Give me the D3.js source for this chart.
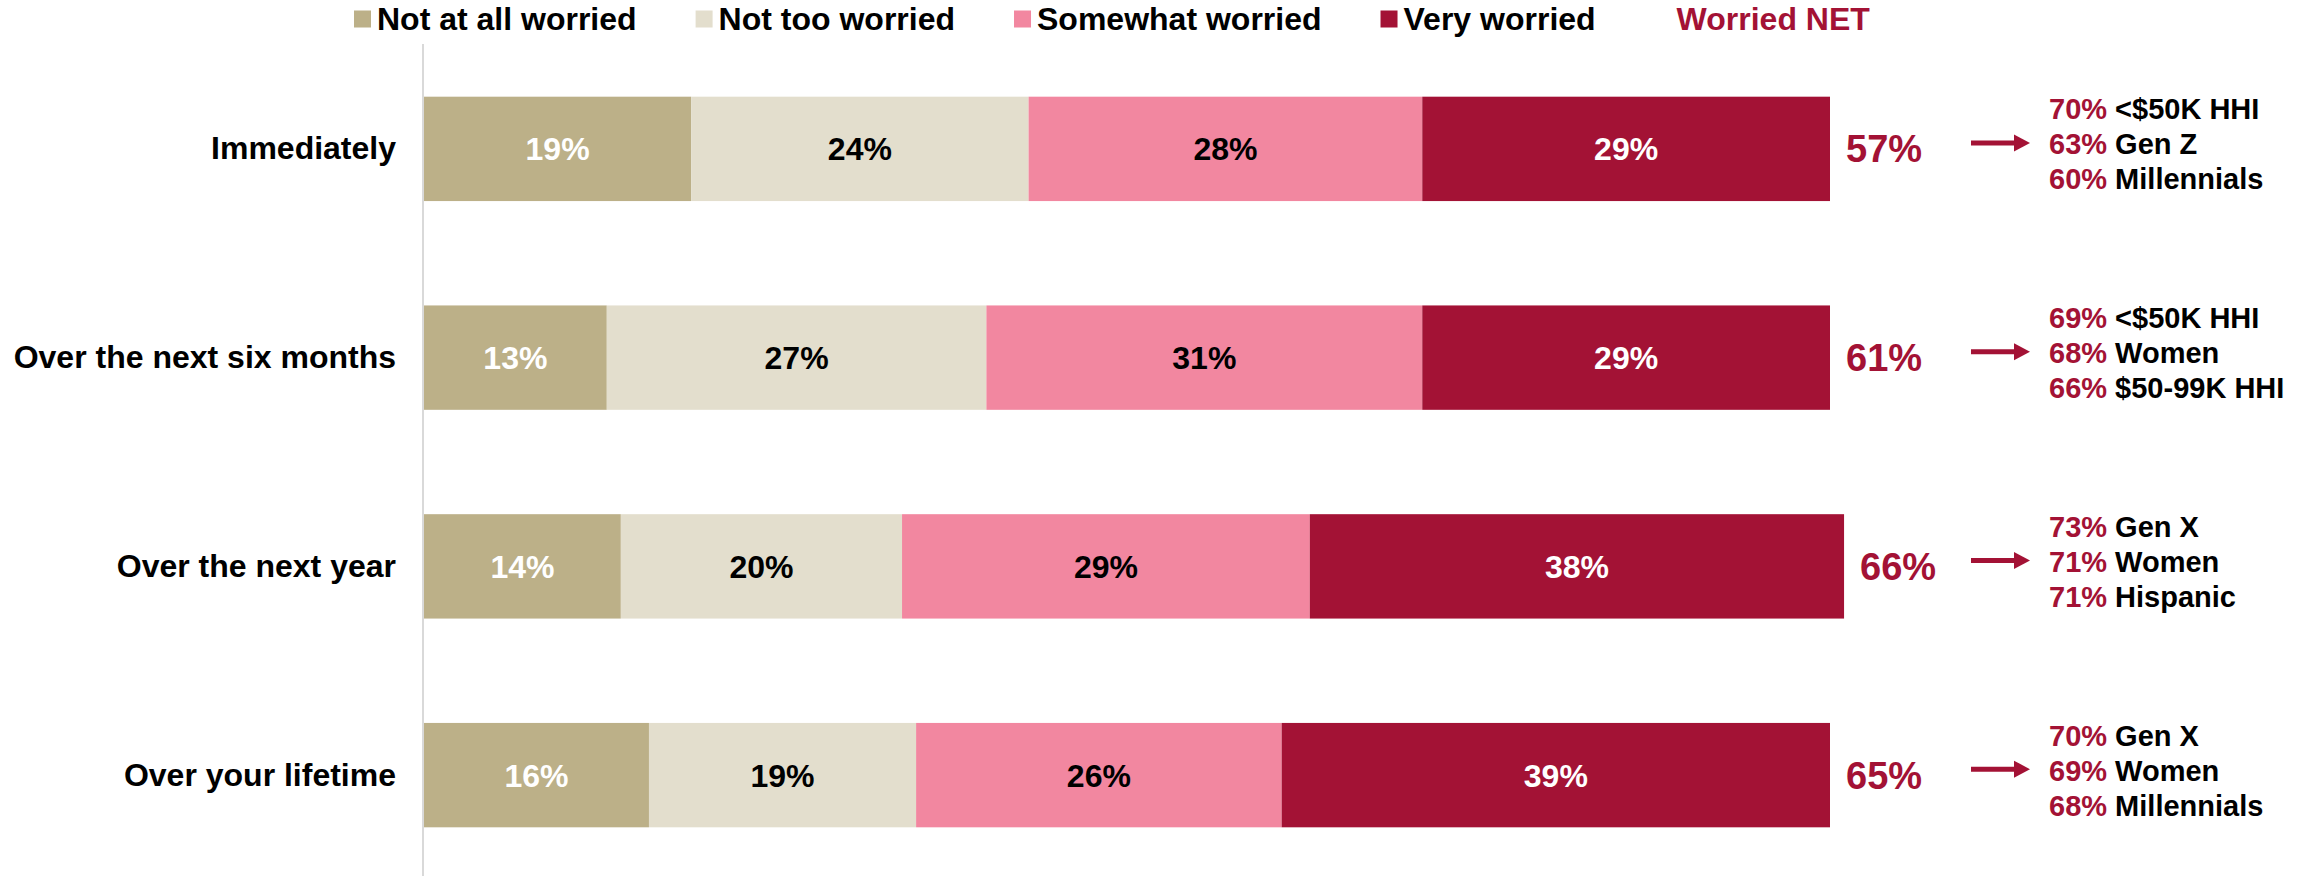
<!DOCTYPE html>
<html>
<head>
<meta charset="utf-8">
<script src="https://cdn.jsdelivr.net/npm/d3@7"></script>
<style>
  html, body { margin: 0; padding: 0; background: #fff; }
  svg { display: block; font-family: "Liberation Sans", Arial, sans-serif; font-weight: bold; }
</style>
</head>
<body>
<svg id="chart" width="2316" height="876"></svg>
<script>
// ---------- DATA ----------
const categories = ["Immediately", "Over the next six months", "Over the next year", "Over your lifetime"];
const seriesNames = ["Not at all worried", "Not too worried", "Somewhat worried", "Very worried"];
const notAtAll   = [19, 13, 14, 16];
const notToo     = [24, 27, 20, 19];
const somewhat   = [28, 31, 29, 26];
const very       = [29, 29, 38, 39];
const worriedNet = [57, 61, 66, 65];
const netLegendLabel = "Worried NET";
const highlightPct = [
  [70, 63, 60],
  [69, 68, 66],
  [73, 71, 71],
  [70, 69, 68]
];
const highlightGroup = [
  ["<$50K HHI", "Gen Z", "Millennials"],
  ["<$50K HHI", "Women", "$50-99K HHI"],
  ["Gen X", "Women", "Hispanic"],
  ["Gen X", "Women", "Millennials"]
];

// ---------- STYLE ----------
const colors = ["#bcb088", "#e3decd", "#f287a0", "#a31235"];
const labelColors = ["#ffffff", "#000000", "#000000", "#ffffff"];
const crimson = "#a31235";

const svg = d3.select("#chart");

const x = d3.scaleLinear().domain([0, 100]).range([424, 1830]);
const y = d3.scaleBand().domain(categories).range([44.5, 879.5]).paddingInner(0.5).paddingOuter(0.25);

const seriesValues = [notAtAll, notToo, somewhat, very];
const rows = categories.map((c, i) => {
  let acc = 0;
  const segs = seriesValues.map((arr, s) => {
    const seg = { cat: c, s, v: arr[i], x0: acc, x1: acc + arr[i] };
    acc += arr[i];
    return seg;
  });
  return { cat: c, i, segs, total: acc };
});

// axis line
svg.append("line")
  .attr("x1", x(0) - 1).attr("x2", x(0) - 1)
  .attr("y1", 44).attr("y2", 876)
  .attr("stroke", "#d9d9d9").attr("stroke-width", 2);

// category labels (y axis)
const yAxis = d3.axisLeft(y).tickSize(0).tickPadding(28);
const yg = svg.append("g").attr("transform", `translate(${x(0)},0)`).call(yAxis);
yg.select(".domain").remove();
yg.selectAll("text")
  .attr("font-family", "Liberation Sans, Arial, sans-serif")
  .attr("font-weight", "bold")
  .attr("font-size", 32)
  .attr("fill", "#000")
  .attr("dy", "0.33em");

const fs = 32;
const capOff = fs * 0.716 / 2;

// bars
const g = svg.append("g");
rows.forEach(r => {
  const cy = y(r.cat) + y.bandwidth() / 2;
  g.selectAll(null).data(r.segs).enter().append("rect")
    .attr("x", d => x(d.x0))
    .attr("width", d => x(d.x1) - x(d.x0))
    .attr("y", y(r.cat))
    .attr("height", y.bandwidth())
    .attr("fill", d => colors[d.s]);
  g.selectAll(null).data(r.segs).enter().append("text")
    .attr("x", d => (x(d.x0) + x(d.x1)) / 2)
    .attr("y", cy + capOff)
    .attr("text-anchor", "middle")
    .attr("font-size", fs)
    .attr("fill", d => labelColors[d.s])
    .text(d => d.v + "%");

  // NET
  svg.append("text")
    .attr("x", x(r.total) + 16)
    .attr("y", cy + 38 * 0.716 / 2)
    .attr("font-size", 38)
    .attr("fill", crimson)
    .text(worriedNet[r.i] + "%");

  // arrow
  const ay = cy - 6;
  svg.append("line")
    .attr("x1", 1971).attr("x2", 2016)
    .attr("y1", ay).attr("y2", ay)
    .attr("stroke", crimson).attr("stroke-width", 5);
  svg.append("path")
    .attr("d", `M2014,${ay - 8.5} L2030,${ay} L2014,${ay + 8.5} Z`)
    .attr("fill", crimson);

  // highlights
  const lh = 35;
  highlightPct[r.i].forEach((p, k) => {
    const ty = ay + 1 + (k - 1) * lh + 29 * 0.716 / 2;
    const t = svg.append("text")
      .attr("x", 2049).attr("y", ty)
      .attr("font-size", 29);
    t.append("tspan").attr("fill", crimson).text(p + "% ");
    t.append("tspan").attr("fill", "#000").text(highlightGroup[r.i][k]);
  });
});

// legend
const lg = svg.append("g");
let lx = 354;
const ly = 19;
seriesNames.forEach((n, s) => {
  lg.append("rect").attr("x", lx).attr("y", ly - 8.5).attr("width", 17).attr("height", 17).attr("fill", colors[s]);
  const t = lg.append("text").attr("x", lx + 23).attr("y", ly + capOff).attr("font-size", fs).attr("fill", "#000").text(n);
  lx = lx + 23 + t.node().getComputedTextLength() + 59;
});
lg.append("text").attr("x", lx + 22).attr("y", ly + capOff).attr("font-size", fs).attr("fill", crimson).text(netLegendLabel);
</script>
</body>
</html>
